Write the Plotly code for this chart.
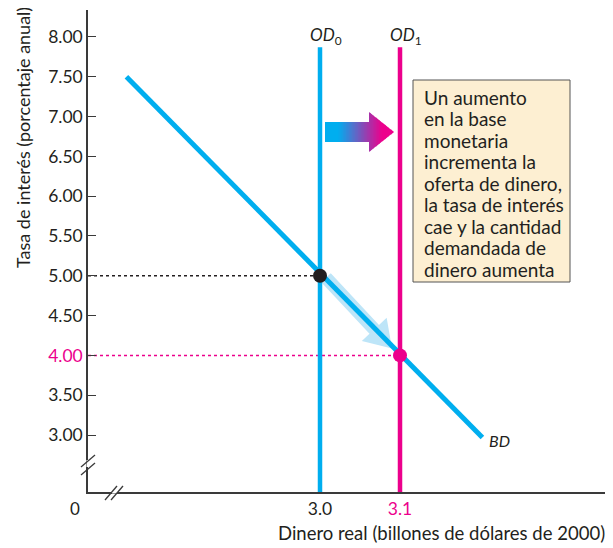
import math
import plotly.graph_objects as go

# ---------------- data ----------------
bd_x = [2.758, 3.203]       # demand for money (BD) end points
bd_y = [7.5, 2.97]
od0_x = 3.0                 # money supply before
od1_x = 3.1                 # money supply after
od_top = 7.87
eq0 = (3.0, 5.0)            # initial equilibrium
eq1 = (3.1, 4.0)            # new equilibrium
y_ticks = [3.0, 3.5, 4.0, 4.5, 5.0, 5.5, 6.0, 6.5, 7.0, 7.5, 8.0]
x_ticks = [3.0, 3.1]
box_lines = ["Un aumento", "en la base", "monetaria", "incrementa la",
             "oferta de dinero,", "la tasa de interés", "cae y la cantidad",
             "demandada de", "dinero aumenta"]

# ---------------- style / layout ----------------
OFF = 8                      # browser body margin
W, H = 613 - OFF, 548 - OFF
PL, PT, PW, PH = 88, 10, 517, 482   # plot area in page pixels
ML, MT = PL - OFF, PT - OFF
MR = W - (ML + PW)
MB = H - (MT + PH)
XR = [2.71, 3.35625]
YR = [2.284, 8.339]
CYAN = "#00aeef"
MAG = "#ec008c"
DARK = "#231f20"
AX = "#3a3a3a"
FONT = "Lato"


def px2x(px):
    return XR[0] + (px - PL) / PW * (XR[1] - XR[0])


def px2y(py):
    return YR[1] - (py - PT) / PH * (YR[1] - YR[0])


def x2px(x):
    return PL + (x - XR[0]) / (XR[1] - XR[0]) * PW


def y2px(y):
    return PT + (YR[1] - y) / (YR[1] - YR[0]) * PH


def ppx(px):
    return (px - PL) / PW


def ppy(py):
    return (PT + PH - py) / PH


def path_from_px(pts):
    return "M " + " L ".join(f"{px2x(a)},{px2y(b)}" for a, b in pts) + " Z"


fig = go.Figure()

# dotted guides
fig.add_trace(go.Scatter(x=[XR[0], eq0[0]], y=[eq0[1], eq0[1]], mode="lines",
                         line=dict(color=DARK, width=1.5, dash="dot"), hoverinfo="skip"))
fig.add_trace(go.Scatter(x=[XR[0], eq1[0]], y=[eq1[1], eq1[1]], mode="lines",
                         line=dict(color=MAG, width=1.5, dash="dot"), hoverinfo="skip"))
# supply lines
fig.add_trace(go.Scatter(x=[od0_x, od0_x], y=[od_top, YR[0]], mode="lines",
                         line=dict(color=CYAN, width=4.5), hoverinfo="skip"))
fig.add_trace(go.Scatter(x=[od1_x, od1_x], y=[od_top, YR[0]], mode="lines",
                         line=dict(color=MAG, width=4.5), hoverinfo="skip"))
# demand line
fig.add_trace(go.Scatter(x=bd_x, y=bd_y, mode="lines",
                         line=dict(color=CYAN, width=5), hoverinfo="skip"))
# equilibrium points
fig.add_trace(go.Scatter(x=[eq0[0]], y=[eq0[1]], mode="markers",
                         marker=dict(color=DARK, size=14), hoverinfo="skip"))
fig.add_trace(go.Scatter(x=[eq1[0]], y=[eq1[1]], mode="markers",
                         marker=dict(color=MAG, size=14), hoverinfo="skip"))

shapes = []

# light-blue movement arrow along BD (geometry derived from the two equilibria)
tx, ty = x2px(eq0[0]) + 6, y2px(eq0[1]) + 2
hx, hy = x2px(eq1[0]) - 8, y2px(eq1[1]) - 7
L = math.hypot(hx - tx, hy - ty)
dx, dy = (hx - tx) / L, (hy - ty) / L
nx, ny = -dy, dx
sw, hw, hl = 6.5, 17, 26
bx, by = hx - dx * hl, hy - dy * hl
pts = [(tx + nx * sw, ty + ny * sw), (bx + nx * sw, by + ny * sw),
       (bx + nx * hw, by + ny * hw), (hx, hy),
       (bx - nx * hw, by - ny * hw), (bx - nx * sw, by - ny * sw),
       (tx - nx * sw, ty - ny * sw)]
shapes.append(dict(type="path", path=path_from_px(pts), xref="x", yref="y",
                   fillcolor="#bde5f8", line=dict(width=0), layer="below"))

# gradient arrow (cyan -> magenta)
c0 = (0, 174, 239)
c1 = (236, 0, 140)
sx0, hb, tip = 325.0, 369.0, 394.0
cy, shh, hh = 132.0, 10.0, 20.0
g0, g1 = 338.0, 382.0
N = 46
step = (tip - sx0) / N


def hh_at(x):
    if x <= hb:
        return hh
    return hh * (tip - x) / (tip - hb)


for i in range(N):
    xa = sx0 + i * step
    xb = xa + step
    xm = (xa + xb) / 2
    t = min(max((xm - g0) / (g1 - g0), 0), 1)
    col = "rgb(%d,%d,%d)" % tuple(round(c0[k] + (c1[k] - c0[k]) * t) for k in range(3))
    xb2 = min(xb + 0.6, tip)
    if xb <= hb:
        poly = [(xa, cy - shh), (xb2, cy - shh), (xb2, cy + shh), (xa, cy + shh)]
    elif xa < hb:
        poly = [(xa, cy - shh), (hb, cy - shh), (hb, cy - hh), (xb2, cy - hh_at(xb2)),
                (xb2, cy + hh_at(xb2)), (hb, cy + hh), (hb, cy + shh), (xa, cy + shh)]
    else:
        poly = [(xa, cy - hh_at(xa)), (xb2, cy - hh_at(xb2)),
                (xb2, cy + hh_at(xb2)), (xa, cy + hh_at(xa))]
    shapes.append(dict(type="path", path=path_from_px(poly), xref="x", yref="y",
                       fillcolor=col, line=dict(width=0), layer="above"))

# text box
shapes.append(dict(type="rect", xref="x", yref="y", x0=px2x(413), x1=px2x(570),
                   y0=px2y(80), y1=px2y(282), fillcolor="#fdefd2",
                   line=dict(color="#555555", width=1), layer="above"))

# axis breaks
shapes.append(dict(type="line", xref="paper", yref="paper", x0=0, x1=0,
                   y0=ppy(460), y1=ppy(467), line=dict(color="white", width=3)))
shapes.append(dict(type="line", xref="paper", yref="paper", x0=ppx(112), x1=ppx(117),
                   y0=0, y1=0, line=dict(color="white", width=3)))
for off in (0, 8):
    shapes.append(dict(type="line", xref="paper", yref="paper",
                       x0=ppx(81), y0=ppy(467 + off), x1=ppx(95), y1=ppy(455 + off),
                       line=dict(color=AX, width=1.3)))
for off in (0, 6):
    shapes.append(dict(type="line", xref="paper", yref="paper",
                       x0=ppx(105 + off), y0=ppy(500), x1=ppx(117 + off), y1=ppy(486),
                       line=dict(color=AX, width=1.3)))

annotations = []
for i, line in enumerate(box_lines):
    annotations.append(dict(x=px2x(422), y=px2y(97 + 21.5 * i), xref="x", yref="y",
                            xanchor="left", yanchor="middle", align="left", showarrow=False,
                            text=line, font=dict(family=FONT, size=19, color=DARK)))
annotations.append(dict(x=od0_x, y=od_top, xref="x", yref="y", xanchor="left", yanchor="bottom",
                        xshift=-12, yshift=-3, showarrow=False,
                        text="<i>OD</i><sub>0</sub>", font=dict(family=FONT, size=17, color=DARK)))
annotations.append(dict(x=od1_x, y=od_top, xref="x", yref="y", xanchor="left", yanchor="bottom",
                        xshift=-12, yshift=-3, showarrow=False,
                        text="<i>OD</i><sub>1</sub>", font=dict(family=FONT, size=17, color=DARK)))
annotations.append(dict(x=bd_x[1], y=bd_y[1], xref="x", yref="y", xanchor="left", yanchor="middle",
                        xshift=5, yshift=-3, showarrow=False,
                        text="<i>BD</i>", font=dict(family=FONT, size=16, color=DARK)))
annotations.append(dict(x=ppx(75), y=ppy(508), xref="paper", yref="paper", xanchor="center",
                        yanchor="middle", showarrow=False, text="0",
                        font=dict(family=FONT, size=17, color=DARK)))
annotations.append(dict(x=ppx(607), y=ppy(533), xref="paper", yref="paper", xanchor="right",
                        yanchor="middle", showarrow=False,
                        text="Dinero real (billones de dólares de 2000)",
                        font=dict(family=FONT, size=18.5, color=DARK)))
annotations.append(dict(x=ppx(23), y=ppy(138), xref="paper", yref="paper", xanchor="center",
                        yanchor="middle", showarrow=False, textangle=-90,
                        text="Tasa de interés (porcentaje anual)",
                        font=dict(family=FONT, size=18, color=DARK)))


def fmt_y(v):
    s = "%.2f" % v
    if abs(v - eq1[1]) < 1e-9:
        return f'<span style="color:{MAG}">{s}</span>'
    return s


def fmt_x(v):
    s = "%.1f" % v
    if abs(v - od1_x) < 1e-9:
        return f'<span style="color:{MAG}">{s}</span>'
    return s


fig.update_layout(
    width=W, height=H,
    margin=dict(l=ML, r=MR, t=MT, b=MB),
    paper_bgcolor="white", plot_bgcolor="white",
    showlegend=False,
    font=dict(family=FONT, color=DARK),
    shapes=shapes,
    annotations=annotations,
    xaxis=dict(range=XR, showgrid=False, zeroline=False, showline=True,
               linecolor=AX, linewidth=1.5, ticks="",
               tickvals=x_ticks, ticktext=[fmt_x(v) for v in x_ticks],
               tickfont=dict(family=FONT, size=17.5, color=DARK)),
    yaxis=dict(range=YR, showgrid=False, zeroline=False, showline=True,
               linecolor=AX, linewidth=1.5, ticks="inside", ticklen=8,
               tickcolor=AX, tickwidth=1.2,
               tickvals=y_ticks, ticktext=[fmt_y(v) for v in y_ticks],
               tickfont=dict(family=FONT, size=17.5, color=DARK)),
)

fig.write_html("out.html")
